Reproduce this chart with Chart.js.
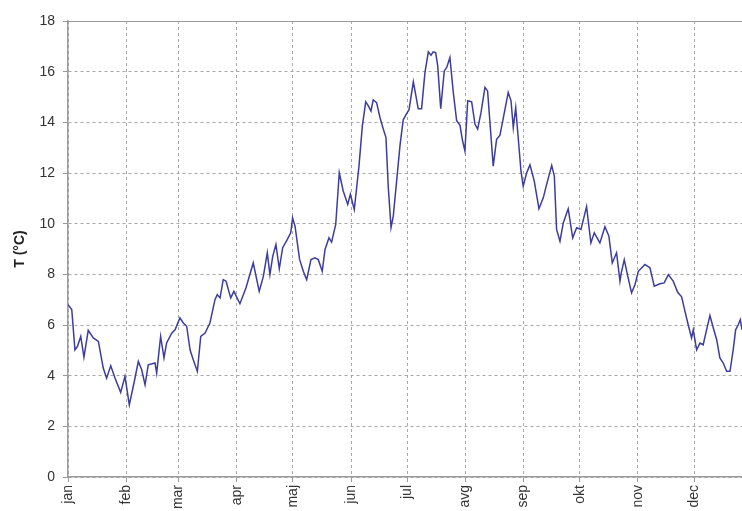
<!DOCTYPE html>
<html>
<head>
<meta charset="utf-8">
<script src="https://cdn.jsdelivr.net/npm/chart.js@4"></script>
<style>
    html, body { margin: 0; padding: 0; background: #fff; }
    #wrap { width: 742px; height: 511px; }
</style>
</head>
<body>
<div id="wrap"><canvas id="tempChart" width="742" height="511"></canvas></div>
<script>
// Monatsnamen und Tag des Monatsbeginns (Tag im Jahr, 0-basiert)
const months = ["jan", "feb", "mar", "apr", "maj", "jun", "jul", "avg", "sep", "okt", "nov", "dec"];
const monthStart = [0, 31, 59, 90, 120, 151, 181, 212, 243, 273, 304, 334];
const yTicks = [0, 2, 4, 6, 8, 10, 12, 14, 16, 18];

const days = [
    0, 2.0, 3.7, 5.0, 6.8, 8.5, 10.8, 13.5, 16.2, 18.8, 20.6, 22.8, 25.1, 28.1, 30.4, 32.7, 35.2, 37.5, 39.3, 41.1,
    42.8, 46.4, 47.3, 49.4, 51.2, 52.6, 55.3, 57.1, 59.7, 61.5, 63.3, 65.1, 66.8, 69.0, 70.8, 73.1, 75.7, 78.4, 79.6, 81.1,
    82.8, 84.3, 86.8, 88.5, 91.7, 94.9, 98.8, 102.0, 104.2, 106.3, 107.7, 109.2, 110.9, 112.7, 114.5, 117.0, 118.8, 119.8, 121.1, 123.5,
    125.5, 127.3, 129.6, 131.7, 133.5, 135.6, 137.1, 139.2, 140.6, 142.8, 144.7, 146.8, 149.2, 150.6, 152.7, 155.2, 157.0, 158.8, 160.2, 161.6,
    162.8, 164.6, 166.4, 168.2, 169.6, 170.8, 172.3, 173.5, 175.3, 177.1, 178.8, 180.3, 181.9, 184.2, 185.4, 186.8, 188.6, 190.4, 192.2, 193.6,
    194.8, 196.1, 197.2, 198.8, 200.7, 202.0, 203.7, 205.5, 207.3, 209.1, 210.3, 211.7, 213.2, 215.3, 217.1, 218.5, 220.3, 222.4, 223.8, 225.6,
    226.8, 228.6, 230.4, 233.1, 234.8, 236.3, 237.5, 238.8, 240.2, 241.6, 242.8, 244.6, 246.4, 248.7, 251.2, 253.5, 255.3, 258.0, 259.4, 260.6,
    262.4, 264.2, 266.8, 269.2, 271.3, 273.6, 276.6, 278.9, 280.7, 283.7, 286.4, 288.5, 290.3, 292.6, 294.4, 295.1, 296.7, 298.5, 300.6, 302.4,
    304.2, 307.7, 310.4, 312.7, 315.7, 318.0, 320.2, 322.8, 325.2, 327.3, 329.1, 330.8, 332.6, 333.5, 335.3, 337.1, 338.8, 340.6, 342.4, 344.2,
    346.0, 347.7, 349.5, 351.3, 353.1, 354.8, 356.1, 357.5, 358.6, 359.5
];
const temps = [
    6.80, 6.61, 5.02, 5.15, 5.55, 4.73, 5.79, 5.49, 5.35, 4.30, 3.90, 4.39, 3.90, 3.34, 3.97, 2.85, 3.71, 4.56, 4.23, 3.64,
    4.43, 4.50, 4.10, 5.55, 4.70, 5.29, 5.68, 5.81, 6.28, 6.08, 5.95, 5.02, 4.63, 4.17, 5.55, 5.68, 6.08, 7.00, 7.20, 7.07,
    7.79, 7.73, 7.07, 7.33, 6.84, 7.46, 8.45, 7.33, 7.92, 8.85, 7.99, 8.71, 9.18, 8.22, 9.05, 9.38, 9.64, 10.23, 9.90, 8.60,
    8.12, 7.79, 8.58, 8.65, 8.58, 8.12, 8.98, 9.44, 9.27, 9.97, 12.01, 11.29, 10.76, 11.16, 10.56, 12.27, 13.86, 14.81, 14.65, 14.45,
    14.89, 14.78, 14.19, 13.73, 13.40, 11.48, 9.85, 10.30, 11.70, 13.10, 14.10, 14.30, 14.50, 15.60, 15.11, 14.54, 14.54, 15.97, 16.78, 16.65,
    16.78, 16.75, 16.23, 14.54, 16.03, 16.17, 16.56, 15.18, 14.06, 13.88, 13.33, 12.87, 14.85, 14.81, 13.92, 13.73, 14.39, 15.38, 15.24, 13.46,
    12.27, 13.33, 13.49, 14.52, 15.18, 14.85, 13.79, 14.58, 13.33, 12.08, 11.48, 12.00, 12.32, 11.68, 10.59, 11.02, 11.55, 12.30, 11.88, 9.77,
    9.31, 10.04, 10.59, 9.44, 9.84, 9.77, 10.67, 9.24, 9.64, 9.24, 9.88, 9.51, 8.45, 8.85, 7.73, 8.06, 8.58, 7.95, 7.27, 7.59,
    8.12, 8.39, 8.26, 7.53, 7.63, 7.66, 7.99, 7.73, 7.29, 7.11, 6.54, 6.01, 5.49, 5.81, 5.02, 5.29, 5.22, 5.81, 6.37, 5.88,
    5.42, 4.70, 4.50, 4.17, 4.17, 5.02, 5.81, 6.01, 6.21, 5.81
];

const gridGray = "#a8a8a8";
const axisGray = "#9a9a9a";
const labelFont = { family: "'Liberation Sans', Arial, sans-serif", size: 14 };

const ctx = document.getElementById("tempChart").getContext("2d");

const tempChart = new Chart(ctx, {
    type: "line",
    data: {
        datasets: [{
            data: days.map((d, i) => ({ x: d, y: temps[i] })),
            borderColor: "#3d3d9f",
            borderWidth: 1.5,
            pointRadius: 0,
            tension: 0,
            fill: false
        }]
    },
    options: {
        responsive: false,
        animation: false,
        devicePixelRatio: 1,
        layout: { padding: { top: 21, right: 0, bottom: 0, left: 0 } },
        plugins: {
            legend: { display: false },
            tooltip: { enabled: false }
        },
        scales: {
            x: {
                type: "linear",
                min: 0,
                max: 359.5,
                afterBuildTicks: ax => { ax.ticks = monthStart.map(v => ({ value: v })); },
                afterFit: ax => { ax.height = 34; },
                ticks: {
                    autoSkip: false,
                    minRotation: 90,
                    maxRotation: 90,
                    padding: 3,
                    color: "#333",
                    font: labelFont,
                    callback: v => months[monthStart.indexOf(v)]
                },
                grid: { color: gridGray, lineWidth: 1, tickLength: 5, tickColor: axisGray },
                border: { color: axisGray, width: 1.5, dash: [3, 3] }
            },
            y: {
                min: 0,
                max: 18,
                afterBuildTicks: ax => { ax.ticks = yTicks.map(v => ({ value: v })); },
                afterFit: ax => { ax.width = 68; },
                ticks: { padding: 8, color: "#333", font: labelFont },
                grid: { color: c => c.tick && c.tick.value === 18 ? axisGray : gridGray, lineWidth: 1, tickLength: 5, tickColor: axisGray },
                // oberste Linie durchgezogen, Rest gestrichelt
                border: { color: axisGray, width: 1.5, dash: c => (c.tick && c.tick.value === 18) ? [] : [3, 3] },
                title: {
                    display: true,
                    text: "T (°C)",
                    color: "#222",
                    font: { family: "'Liberation Sans', Arial, sans-serif", size: 14, weight: "bold" },
                    padding: { top: 12, bottom: 0 }
                }
            }
        }
    }
});
</script>
</body>
</html>
